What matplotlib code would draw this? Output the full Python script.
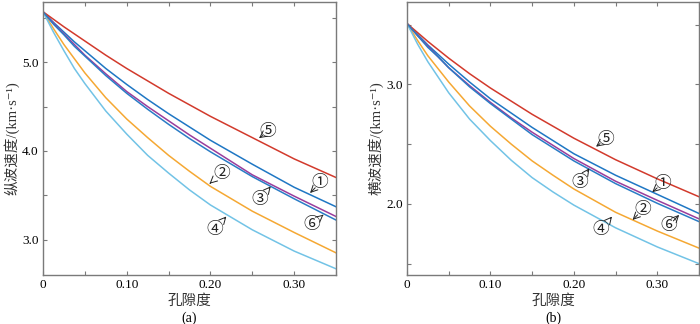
import matplotlib
matplotlib.use("Agg")
import matplotlib.pyplot as plt
from matplotlib.ticker import MultipleLocator, FixedLocator

plt.rcParams['font.family'] = ['Liberation Serif', 'Noto Sans CJK SC', 'DejaVu Sans']

# porosity sample points
porosity = [0, 0.0125, 0.025, 0.0375, 0.05, 0.075, 0.10, 0.125, 0.15, 0.175, 0.20, 0.25, 0.30, 0.35]

# (a) P-wave velocity, km/s
vp_1 = [5.57, 5.45, 5.34, 5.23, 5.13, 4.93, 4.75, 4.58, 4.42, 4.27, 4.12, 3.85, 3.59, 3.37]
vp_2 = [5.57, 5.38, 5.20, 5.04, 4.88, 4.60, 4.36, 4.15, 3.95, 3.77, 3.60, 3.32, 3.08, 2.85]
vp_3 = [5.57, 5.44, 5.32, 5.20, 5.08, 4.87, 4.67, 4.50, 4.34, 4.18, 4.03, 3.73, 3.49, 3.26]
vp_4 = [5.57, 5.34, 5.13, 4.93, 4.76, 4.45, 4.19, 3.95, 3.75, 3.56, 3.39, 3.11, 2.87, 2.67]
vp_5 = [5.57, 5.485, 5.40, 5.32, 5.24, 5.08, 4.93, 4.79, 4.65, 4.52, 4.39, 4.15, 3.91, 3.70]
vp_6 = [5.57, 5.43, 5.31, 5.18, 5.07, 4.85, 4.65, 4.47, 4.30, 4.14, 3.99, 3.71, 3.46, 3.22]

# (b) S-wave velocity, km/s
vs_1 = [3.51, 3.42, 3.33, 3.25, 3.17, 3.02, 2.88, 2.76, 2.64, 2.53, 2.42, 2.24, 2.08, 1.92]
vs_2 = [3.51, 3.37, 3.24, 3.13, 3.02, 2.82, 2.65, 2.50, 2.36, 2.24, 2.125, 1.93, 1.773, 1.63]
vs_3 = [3.51, 3.41, 3.32, 3.23, 3.14, 2.99, 2.85, 2.72, 2.60, 2.49, 2.38, 2.19, 2.03, 1.875]
vs_4 = [3.51, 3.34, 3.19, 3.06, 2.93, 2.71, 2.53, 2.365, 2.22, 2.10, 1.99, 1.80, 1.64, 1.50]
vs_5 = [3.51, 3.435, 3.36, 3.29, 3.22, 3.09, 2.97, 2.86, 2.75, 2.65, 2.55, 2.37, 2.21, 2.06]
vs_6 = [3.51, 3.41, 3.31, 3.23, 3.14, 2.98, 2.84, 2.71, 2.58, 2.47, 2.36, 2.17, 2.005, 1.852]

curve_labels = ['①', '②', '③', '④', '⑤', '⑥']
xtick_vals = [0, 0.10, 0.20, 0.30]
xtick_labels = ['0', '0.10', '0.20', '0.30']

colors = {'①': '#1f77c4', '②': '#f5a833', '③': '#9a3d9c',
          '④': '#72c3e6', '⑤': '#d23a2c', '⑥': '#2a7cc6'}

# annotation (text pos, arrow tip) in data coords
ann_a = {'⑤': ((0.269, 4.22), (0.258, 4.144)),
         '①': ((0.331, 3.64), (0.319, 3.525)),
         '②': ((0.213, 3.75), (0.199, 3.63)),
         '③': ((0.259, 3.45), (0.272, 3.60)),
         '⑥': ((0.321, 3.17), (0.335, 3.28)),
         '④': ((0.205, 3.11), (0.219, 3.26))}
ann_b = {'⑤': ((0.238, 2.54), (0.2266, 2.479)),
         '①': ((0.306, 2.173), (0.294, 2.098)),
         '③': ((0.2067, 2.178), (0.2186, 2.298)),
         '②': ((0.2823, 1.95), (0.2704, 1.866)),
         '⑥': ((0.3134, 1.816), (0.3262, 1.908)),
         '④': ((0.2326, 1.783), (0.2457, 1.894))}

fig = plt.figure(figsize=(7.0, 3.24), dpi=100)
axA = fig.add_axes([43/700, 49/324, 293/700, 273/324])
axB = fig.add_axes([407/700, 49/324, 292/700, 273/324])

spine_col = '#7a7a7a'
cjk = ['Noto Sans CJK SC', 'DejaVu Sans']

def style(ax, ylim, ymajor, yticklabels):
    ax.set_xlim(0, 0.35)
    ax.set_ylim(*ylim)
    ax.xaxis.set_major_locator(FixedLocator(xtick_vals))
    ax.set_xticklabels(xtick_labels)
    ax.xaxis.set_minor_locator(MultipleLocator(0.05))
    ax.yaxis.set_major_locator(FixedLocator(ymajor))
    ax.set_yticklabels(yticklabels)
    ax.yaxis.set_minor_locator(MultipleLocator(0.5))
    ax.tick_params(which='both', direction='in', top=True, right=True,
                   length=3, width=0.8, color=spine_col, labelsize=9.5,
                   pad=3)
    for s in ax.spines.values():
        s.set_color(spine_col)
        s.set_linewidth(1.0)

def draw(ax, series, ann):
    for lab, ys in zip(curve_labels, series):
        ax.plot(porosity, ys, color=colors[lab], lw=1.1, zorder=2)
    for lab, (tpos, tip) in ann.items():
        ax.annotate(lab, xy=tip, xytext=tpos, ha='center', va='center',
                    fontsize=12, family=cjk, color='#222222',
                    arrowprops=dict(arrowstyle='->', color='#222222', lw=0.7,
                                    shrinkA=5, shrinkB=0))

draw(axA, [vp_1, vp_2, vp_3, vp_4, vp_5, vp_6], ann_a)
draw(axB, [vs_1, vs_2, vs_3, vs_4, vs_5, vs_6], ann_b)

style(axA, (2.6, 5.68), [3.0, 4.0, 5.0], ['3.0', '4.0', '5.0'])
style(axB, (1.405, 3.69), [2.0, 3.0], ['2.0', '3.0'])

axA.set_xlabel('孔隙度', family=cjk, fontsize=10.5, labelpad=2, color='#333333')
axB.set_xlabel('孔隙度', family=cjk, fontsize=10.5, labelpad=2, color='#333333')
axA.set_ylabel('纵波速度/(km·s⁻¹)', fontsize=10.5, labelpad=2, color='#333333')
axB.set_ylabel('横波速度/(km·s⁻¹)', fontsize=10.5, labelpad=2, color='#333333')

fig.text((43 + 336) / 2 / 700, 6/324, '(a)', ha='center', va='center', fontsize=10)
fig.text((407 + 699) / 2 / 700, 6/324, '(b)', ha='center', va='center', fontsize=10)

fig.savefig('out.png', dpi=100)
